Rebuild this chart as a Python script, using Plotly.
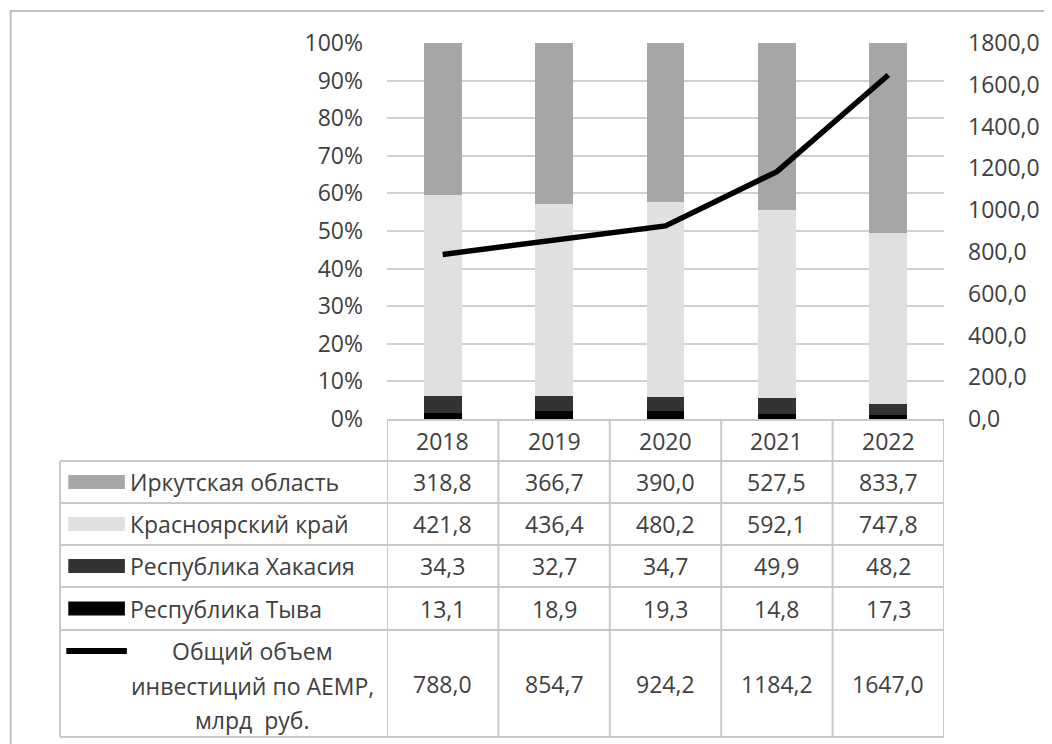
import plotly.graph_objects as go

# ---------------- data ----------------
years = ["2018", "2019", "2020", "2021", "2022"]
irkutsk = [318.8, 366.7, 390.0, 527.5, 833.7]
krasnoyarsk = [421.8, 436.4, 480.2, 592.1, 747.8]
khakasia = [34.3, 32.7, 34.7, 49.9, 48.2]
tyva = [13.1, 18.9, 19.3, 14.8, 17.3]
total = [788.0, 854.7, 924.2, 1184.2, 1647.0]

names = ["Иркутская область", "Красноярский край", "Республика Хакасия", "Республика Тыва"]
total_name = ["Общий объем", "инвестиций по АЕМР,", "млрд  руб."]
colors = {"Иркутская область": "#a6a6a6", "Красноярский край": "#e0e0e0",
          "Республика Хакасия": "#333333", "Республика Тыва": "#000000"}
series = {"Иркутская область": irkutsk, "Красноярский край": krasnoyarsk,
          "Республика Хакасия": khakasia, "Республика Тыва": tyva}

FONT = "Open Sans"
TXT = "#404040"
FS = 23
O = 8  # page body margin
W, H = 1052 - O, 744 - O
# plot area in page coordinates: x 387..948, y 43..419
L, R, T, B = 387 - O, W - (948 - O), 43 - O, H - (419 - O)
PW = W - L - R
PH = H - T - B
BOT = H - B


def px(x):
    return (x - O - L) / PW


def py(y):
    return (BOT - (y - O)) / PH


def fmt(v):
    return f"{v:.1f}".replace(".", ",")


fig = go.Figure()
for nm in reversed(names):
    fig.add_trace(go.Bar(x=years, y=series[nm], name=nm, marker=dict(color=colors[nm], line=dict(width=0)),
                         width=0.34))
fig.add_trace(go.Scatter(x=years, y=total, yaxis="y2", mode="lines", name="total",
                         line=dict(color="black", width=5.5)))

shapes = []
annos = []
LINE = dict(color="#c8c8c8", width=2)

# outer frame
shapes.append(dict(type="rect", xref="paper", yref="paper", x0=px(8), x1=px(1070), y0=py(11), y1=py(780),
                   line=dict(color="#c0c0c0", width=2), fillcolor="rgba(0,0,0,0)", layer="below"))

# table geometry (page coordinates)
row_lines = [420, 461, 503, 545, 587, 630, 737]
left_x = 57.7
shapes.append(dict(type="line", xref="x", yref="paper", x0=-0.5, x1=len(years) - 0.5,
                   y0=py(row_lines[0]), y1=py(row_lines[0]), line=LINE))
for yy in row_lines[1:]:
    shapes.append(dict(type="line", xref="paper", yref="paper", x0=px(left_x), x1=1,
                       y0=py(yy), y1=py(yy), line=LINE))
for i in range(len(years) + 1):
    shapes.append(dict(type="line", xref="x", yref="paper", x0=i - 0.5, x1=i - 0.5,
                       y0=py(row_lines[0]), y1=py(row_lines[-1]), line=LINE))
shapes.append(dict(type="line", xref="paper", yref="paper", x0=px(left_x), x1=px(left_x),
                   y0=py(row_lines[1]), y1=py(row_lines[-1]), line=LINE))

# header years
for i, yr in enumerate(years):
    annos.append(dict(x=i, xref="x", y=py((row_lines[0] + row_lines[1]) / 2), yref="paper", text=yr,
                      showarrow=False, xanchor="center", yanchor="middle"))

# data rows
for r, nm in enumerate(names):
    yc = (row_lines[r + 1] + row_lines[r + 2]) / 2
    shapes.append(dict(type="rect", xref="paper", yref="paper", x0=px(66), x1=px(123),
                       y0=py(yc - 7), y1=py(yc + 7), fillcolor=colors[nm], line=dict(width=0)))
    annos.append(dict(x=px(126), xref="paper", y=py(yc), yref="paper", text=nm, showarrow=False,
                      xanchor="left", yanchor="middle"))
    for i, v in enumerate(series[nm]):
        annos.append(dict(x=i, xref="x", y=py(yc), yref="paper", text=fmt(v), showarrow=False,
                          xanchor="center", yanchor="middle"))

# total row
yc = (row_lines[5] + row_lines[6]) / 2
for i, v in enumerate(total):
    annos.append(dict(x=i, xref="x", y=py(yc), yref="paper", text=fmt(v), showarrow=False,
                      xanchor="center", yanchor="middle"))
shapes.append(dict(type="line", xref="paper", yref="paper", x0=px(64), x1=px(125), y0=py(651), y1=py(651),
                   line=dict(color="black", width=6)))
for t, yy in zip(total_name, [651, 686, 720]):
    annos.append(dict(x=px(252), xref="paper", y=py(yy), yref="paper", text=t, showarrow=False,
                      xanchor="center", yanchor="middle"))

fig.update_layout(
    width=W, height=H,
    margin=dict(l=L, r=R, t=T, b=B),
    paper_bgcolor="white", plot_bgcolor="white",
    barmode="stack", barnorm="fraction",
    showlegend=False,
    separators=", ",
    font=dict(family=FONT, size=FS, color=TXT),
    xaxis=dict(range=[-0.5, len(years) - 0.5], showticklabels=False, showgrid=False, zeroline=False,
               showline=False, ticks=""),
    yaxis=dict(range=[0, 1], dtick=0.1, tick0=0, tickformat=".0%", showgrid=True, gridcolor="#d0d0d0",
               gridwidth=2, zeroline=False, showline=False, ticks="", ticklabelstandoff=23),
    yaxis2=dict(range=[0, 1800], dtick=200, tick0=0, tickformat=".1f", overlaying="y", side="right",
                showgrid=False, zeroline=False, showline=False, ticks="", ticklabelstandoff=23),
    shapes=shapes,
    annotations=annos,
)

fig.write_html("out.html")
